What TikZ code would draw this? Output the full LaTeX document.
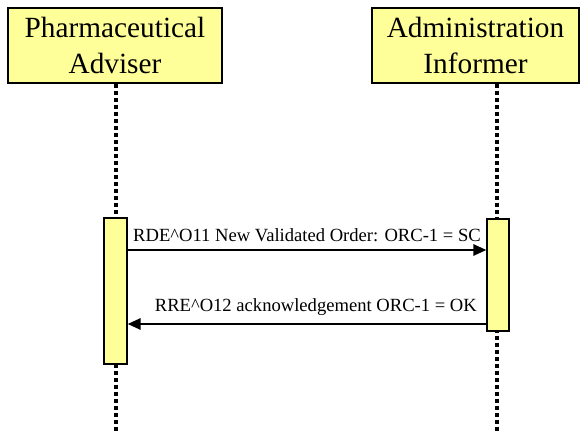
\documentclass[tikz,border=0pt]{standalone}
\usepackage{fontspec}
\setmainfont{Liberation Serif}
\usetikzlibrary{arrows.meta}
\definecolor{boxyellow}{HTML}{FFFF99}
\begin{document}
\begin{tikzpicture}[x=1pt,y=-1pt,
  actor/.style={draw=black, fill=boxyellow, line width=1.1pt, align=center,
    inner sep=0pt, font=\fontsize{29.3}{36}\selectfont},
  actbar/.style={draw=black, fill=boxyellow, line width=1.1pt, inner sep=0pt},
  lifeline/.style={line width=3.6pt, dash pattern=on 4pt off 3pt},
  msg/.style={line width=2.6pt, -{Triangle[length=13pt,width=11pt]}},
  msglabel/.style={font=\fontsize{18.6}{22}\selectfont, inner sep=0pt}]
\useasboundingbox[fill=white] (0,0) rectangle (581,431);
% actors
\node[actor, minimum width=214pt, minimum height=75pt] (pa) at (115,45.5) {Pharmaceutical\\Adviser};
\node[actor, minimum width=207pt, minimum height=75pt] (ai) at (475.5,45.5) {Administration\\Informer};
% lifeline ends
\coordinate (l1top) at (116,83.5);
\coordinate (l1bot) at (116,431);
\coordinate (l2top) at (497,83.5);
\coordinate (l2bot) at (497,431);
\draw[lifeline] (l1top) -- (l1bot);
\draw[lifeline] (l2top) -- (l2bot);
% activation bars
\node[actbar, minimum width=23pt, minimum height=146pt] (act1) at (115.5,291) {};
\node[actbar, minimum width=22pt, minimum height=112pt] (act2) at (498,275) {};
% messages
\coordinate (m1) at (0,250);
\coordinate (m2) at (0,324);
\draw[msg] (act1.east |- m1) -- (act2.west |- m1);
\draw[msg] (act2.west |- m2) -- (act1.east |- m2);
\node[msglabel, anchor=base] (lab1) at (307,241) {RDE\^{}O11 New Validated Order: ORC-1 = SC};
\node[msglabel, anchor=base east] (lab2) at (477,311.5) {RRE\^{}O12 acknowledgement ORC-1 = OK};
\end{tikzpicture}
\end{document}
